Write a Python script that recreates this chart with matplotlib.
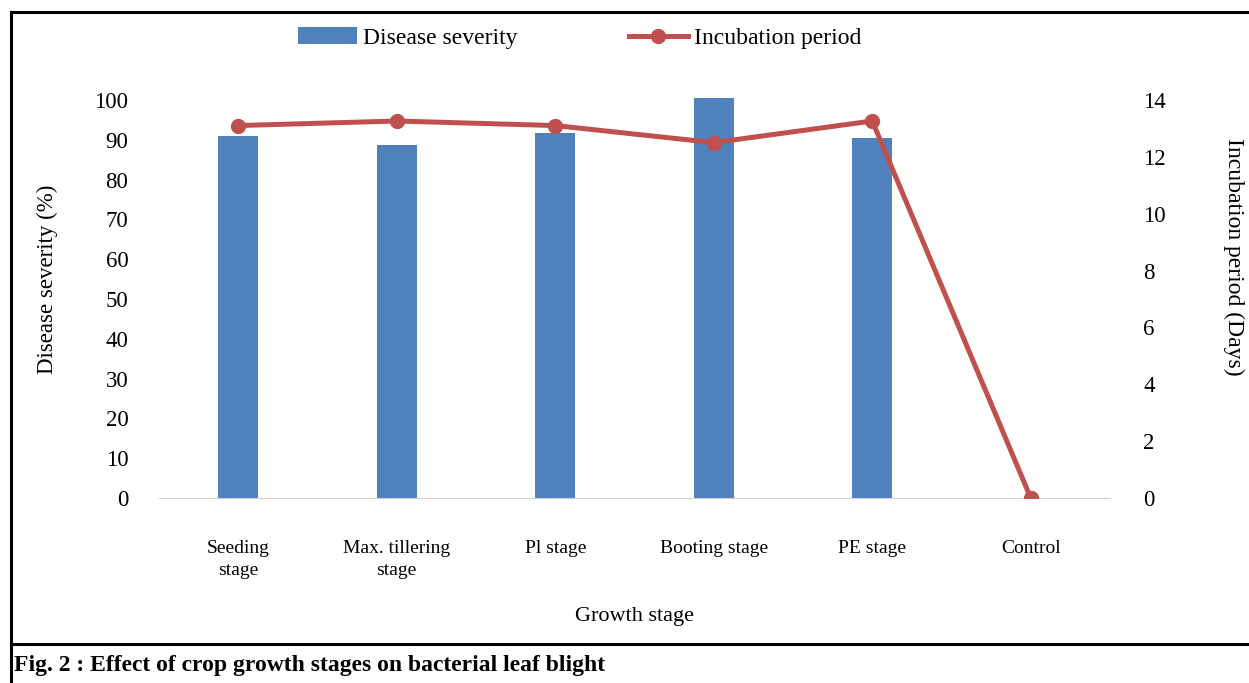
import numpy as np
import matplotlib.pyplot as plt
from matplotlib.lines import Line2D

stages = ['Seeding\nstage', 'Max. tillering\nstage', 'Pl stage', 'Booting stage', 'PE stage', 'Control']
severity = [91.0, 88.8, 91.8, 100.4, 90.4, 0.0]
incubation = [13.1, 13.26, 13.1, 12.5, 13.26, 0.0]

bar_color = '#4F81BD'
line_color = '#C0504D'

plt.rcParams['font.family'] = ['Liberation Serif', 'DejaVu Serif']

fig = plt.figure(figsize=(12.49, 6.83), dpi=100)
ax = fig.add_axes([0.1273, 0.2709, 0.7614, 0.641])
ax2 = ax.twinx()

x = np.arange(len(stages))
ax.bar(x, severity, width=0.25, color=bar_color, label='Disease severity', zorder=2)
ax2.plot(x, incubation, color=line_color, linewidth=3.6, marker='o', markersize=10,
         label='Incubation period', zorder=3)

ax.set_xlim(-0.5, 5.5)
ax.set_ylim(0, 110)
ax2.set_ylim(0, 15.4)
ax.set_yticks(np.arange(0, 101, 10))
ax2.set_yticks(np.arange(0, 15, 2))
ax.set_xticks(x)
ax.set_xticklabels(stages, fontsize=14, linespacing=1.45, va='top')

for a in (ax, ax2):
    for s in a.spines.values():
        s.set_visible(False)
    a.tick_params(length=0)
ax.spines['bottom'].set_visible(True)
ax.spines['bottom'].set_color('#d0d0d0')
ax.tick_params(axis='y', labelsize=16.5, pad=22)
ax.tick_params(axis='x', pad=30)
ax2.tick_params(axis='y', labelsize=16.5, pad=24)

ax.set_ylabel('Disease severity (%)', fontsize=16.5, labelpad=26)
ax2.set_ylabel('Incubation period (Days)', fontsize=17, rotation=-90)
ax2.yaxis.set_label_coords(1.141, 0.55)
ax.set_xlabel('Growth stage', fontsize=16, labelpad=20)

h1, l1 = ax.get_legend_handles_labels()
h2, l2 = ax2.get_legend_handles_labels()
fig.legend(h1 + h2, l1 + l2, loc='center', bbox_to_anchor=(0.464, 0.944), ncol=2,
           frameon=False, fontsize=17, columnspacing=4.7, handlelength=2.5, handletextpad=0.25)

# frame around the figure and caption separator
fig.add_artist(Line2D([0.0088, 1.0], [0.9824, 0.9824], color='black', linewidth=2.2))
fig.add_artist(Line2D([0.0088, 0.0088], [0.0, 0.9824], color='black', linewidth=2.2))
fig.add_artist(Line2D([0.0088, 1.0], [0.0571, 0.0571], color='black', linewidth=2.2))
fig.text(0.011, 0.026, 'Fig. 2 : Effect of crop growth stages on bacterial leaf blight',
         fontsize=17, fontweight='bold', ha='left', va='center')

fig.savefig('out.png', dpi=100)
